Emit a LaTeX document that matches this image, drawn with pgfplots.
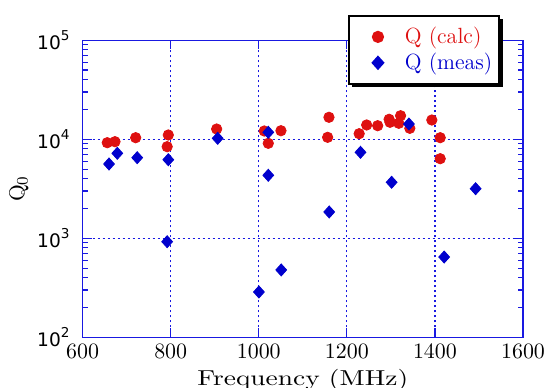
\documentclass[border=0pt]{standalone}
\usepackage{fontspec}
\usepackage{pgfplots}
\pgfplotsset{compat=1.18}
\usetikzlibrary{shadows}
\newfontfamily\djv{DejaVu Sans}
\definecolor{cred}{RGB}{222,16,16}
\definecolor{cblue}{RGB}{0,0,205}
\definecolor{axblue}{RGB}{25,25,225}
\newcommand{\ytl}[1]{{\djv\fontsize{9.3}{10}\selectfont 10\raisebox{0.85ex}{\fontsize{6.8}{7}\selectfont #1}}}
\begin{document}
\begin{tikzpicture}
\begin{axis}[
  name=ax,
  scale only axis,
  width=220.2pt, height=148.5pt,
  xmin=600, xmax=1600,
  ymode=log, ymin=100, ymax=100000,
  xtick={600,800,1000,1200,1400,1600},
  ytick={100,1000,10000,100000},
  minor ytick={200,300,400,500,600,700,800,900,2000,3000,4000,5000,6000,7000,8000,9000,20000,30000,40000,50000,60000,70000,80000,90000},
  yticklabels={\ytl{2},\ytl{3},\ytl{4},\ytl{5}},
  xticklabel style={/pgf/number format/1000 sep={}, font=\fontsize{10.9}{13}\selectfont},
  yticklabel style={xshift=-3pt},
  xlabel={\scalebox{1.27}[1]{Frequency (MHz)}},
  ylabel={Q$_0$},
  label style={font=\fontsize{10.8}{13}\selectfont},
  xlabel style={yshift=1.5pt},
  ylabel style={yshift=-2.5pt},
  axis line style={axblue, line width=0.75pt},
  every tick/.style={axblue, line width=0.6pt},
  tick align=inside,
  major tick length=4.5pt,
  minor tick length=2.6pt,
  ymajorgrids, xmajorgrids,
  major grid style={axblue, line width=0.6pt, dash pattern=on 1pt off 1.5pt},
  legend style={
    at={(0.603,1.085)}, anchor=north west,
    draw=black, line width=0.9pt, fill=white,
    drop shadow={shadow xshift=1.6pt, shadow yshift=-1.6pt, fill=black, opacity=1},
    font=\fontsize{11}{13}\selectfont,
    inner xsep=1.5pt, inner ysep=4pt,
    row sep=0pt,
    nodes={inner ysep=1.6pt},
    legend cell align=left,
  },
  legend image code/.code={\path (-12.5pt,0pt) (11pt,0pt); \draw[mark repeat=1,#1] plot coordinates {(0pt,0pt)};},
  clip=false,
]
\addplot[only marks, mark=*, mark size=2.6pt, color=cred, mark options={draw=cred, fill=cred}] coordinates {
(656,9240) (673.5,9460) (720.5,10380) (794.6,11050) (792,8420)
(904.4,12700) (1012.5,12130) (1021.6,9110) (1050.4,12210)
(1159.4,16680) (1156.4,10470) (1228,11390) (1245,13950) (1270,13720)
(1296,15920) (1298,14850) (1318,14510) (1322,17310) (1343,12910)
(1393,15660) (1412,10380) (1412,6370)
};
\addlegendentry{\textcolor{cred}{Q (calc)}}
\addplot[only marks, mark=diamond*, mark size=3pt, color=cblue, mark options={draw=cblue, fill=cblue, xscale=1.2}] coordinates {
(660,5630) (678.8,7220) (724,6520) (794.6,6220) (792,924)
(906.7,10230) (1021.6,11770) (1021.6,4330) (1000.4,287) (1051,479)
(1160,1845) (1231,7390) (1301.7,3680) (1341,14270) (1421,647) (1492.4,3170)
};
\addlegendentry{\textcolor{cblue}{Q (meas)}}
\end{axis}
\pgfresetboundingbox
\path[use as bounding box] ([shift={(-41.3pt,-24.85pt)}]ax.south west) rectangle ([shift={(13.5pt,20.15pt)}]ax.north east);
\end{tikzpicture}
\end{document}
